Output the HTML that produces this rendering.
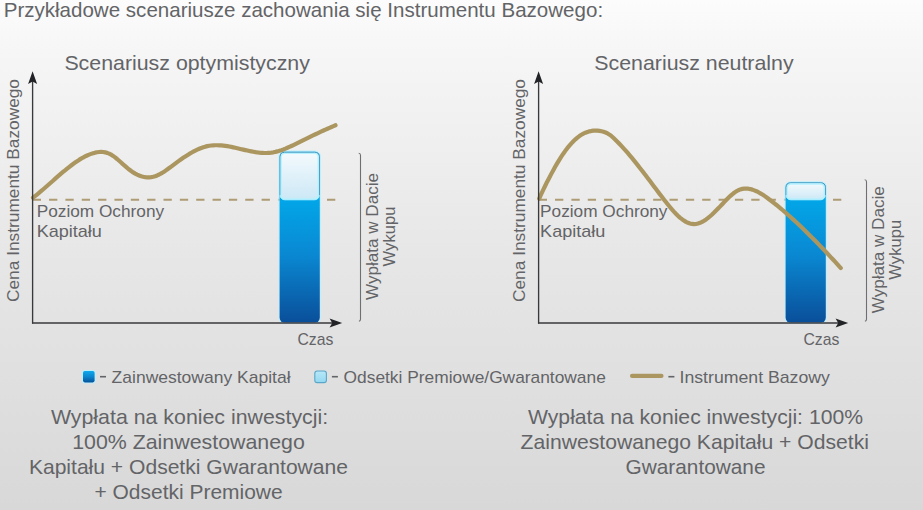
<!DOCTYPE html>
<html><head><meta charset="utf-8">
<style>
html,body{margin:0;padding:0;background:#fff;}
body{width:923px;height:510px;overflow:hidden;}
svg{display:block;font-family:"Liberation Sans",sans-serif;}
</style></head>
<body>
<svg width="923" height="510" viewBox="0 0 923 510">
<defs>
<linearGradient id="bg" x1="0" y1="0" x2="0" y2="1">
<stop offset="0" stop-color="#fcfcfc"/>
<stop offset="0.1" stop-color="#f6f6f6"/>
<stop offset="0.49" stop-color="#e8e7e7"/>
<stop offset="1" stop-color="#d8d8d8"/>
</linearGradient>
<linearGradient id="blue" x1="0" y1="0" x2="0" y2="1">
<stop offset="0" stop-color="#0ea8ec"/>
<stop offset="0.5" stop-color="#0a86cf"/>
<stop offset="1" stop-color="#06529a"/>
</linearGradient>
<linearGradient id="bluebar" gradientUnits="userSpaceOnUse" x1="0" y1="200" x2="0" y2="322">
<stop offset="0" stop-color="#02a6e8"/>
<stop offset="0.45" stop-color="#0a88d2"/>
<stop offset="1" stop-color="#0a4f9a"/>
</linearGradient>
<linearGradient id="light" x1="0" y1="0" x2="0" y2="1">
<stop offset="0" stop-color="#f4fafd"/>
<stop offset="1" stop-color="#cce8f6"/>
</linearGradient>
<linearGradient id="light2" x1="0" y1="0" x2="0" y2="1">
<stop offset="0" stop-color="#b8e8f8"/>
<stop offset="1" stop-color="#94d8f1"/>
</linearGradient>
</defs>
<rect x="0" y="0" width="923" height="510" fill="url(#bg)"/>
<g fill="#636467">
<text x="3.70" y="16.6" font-size="20.3" text-anchor="start" textLength="599.40" lengthAdjust="spacingAndGlyphs">Przykładowe scenariusze zachowania się Instrumentu Bazowego:</text>
<text x="64.40" y="69.7" font-size="20.3" text-anchor="start" textLength="245.50" lengthAdjust="spacingAndGlyphs">Scenariusz optymistyczny</text>
<text transform="translate(19,302) rotate(-90)" x="0" y="0" font-size="16.6" textLength="223" lengthAdjust="spacingAndGlyphs">Cena Instrumentu Bazowego</text>
<line x1="32.7" y1="199.7" x2="336" y2="199.7" stroke="#ad9c74" stroke-width="2" stroke-dasharray="8.3 8.05"/>
<text x="36.70" y="216.6" font-size="16.4" textLength="127.40" lengthAdjust="spacingAndGlyphs">Poziom Ochrony</text>
<text x="36.70" y="237.4" font-size="16.4" textLength="65.20" lengthAdjust="spacingAndGlyphs">Kapitału</text>
<rect x="279.0" y="151.20000000000002" width="41.400000000000006" height="172.0" rx="5.6" fill="none" stroke="#bfeefc" stroke-width="1.2"/>
<rect x="279.6" y="151.8" width="40.2" height="170.8" rx="5" fill="url(#bluebar)"/>
<rect x="280.1" y="152.3" width="39.2" height="47.5" rx="4.6" fill="url(#light)" stroke="#a9eefc" stroke-width="1"/>
<path d="M280.1 195.20000000000002 L280.1 156.9 Q280.1 152.3 284.70000000000005 152.3 L314.7 152.3 Q319.3 152.3 319.3 156.9 L319.3 195.20000000000002" fill="none" stroke="#3d8fba" stroke-width="1"/>
<rect x="281.20000000000005" y="153.4" width="37.0" height="45.4" rx="3.6" fill="none" stroke="#b6f1ff" stroke-width="1.3"/>
<path d="M33.0 197.70 L35.0 196.14 L37.0 194.54 L39.0 192.90 L41.0 191.22 L43.0 189.51 L45.0 187.78 L47.0 186.02 L49.0 184.25 L51.0 182.48 L53.0 180.70 L55.0 178.92 L57.0 177.15 L59.0 175.40 L61.0 173.67 L63.0 171.96 L65.1 170.28 L67.1 168.64 L69.1 167.04 L71.1 165.49 L73.1 164.00 L75.1 162.56 L77.1 161.19 L79.1 159.89 L81.1 158.66 L83.1 157.52 L85.1 156.46 L87.1 155.49 L89.1 154.63 L91.1 153.87 L93.1 153.21 L95.1 152.68 L97.1 152.27 L99.1 152.02 L101.1 151.93 L103.1 152.02 L105.1 152.33 L107.1 152.85 L109.1 153.62 L111.1 154.65 L113.1 155.91 L115.1 157.38 L117.1 158.99 L119.1 160.72 L121.1 162.52 L123.1 164.34 L125.2 166.15 L127.2 167.90 L129.2 169.54 L131.2 171.05 L133.2 172.41 L135.2 173.61 L137.2 174.64 L139.2 175.52 L141.2 176.23 L143.2 176.76 L145.2 177.13 L147.2 177.31 L149.2 177.31 L151.2 177.12 L153.2 176.75 L155.2 176.18 L157.2 175.42 L159.2 174.49 L161.2 173.41 L163.2 172.20 L165.2 170.89 L167.2 169.50 L169.2 168.05 L171.2 166.56 L173.2 165.06 L175.2 163.57 L177.2 162.09 L179.2 160.64 L181.2 159.21 L183.2 157.83 L185.3 156.48 L187.3 155.18 L189.3 153.93 L191.3 152.75 L193.3 151.63 L195.3 150.58 L197.3 149.61 L199.3 148.73 L201.3 147.94 L203.3 147.24 L205.3 146.65 L207.3 146.16 L209.3 145.79 L211.3 145.51 L213.3 145.33 L215.3 145.24 L217.3 145.23 L219.3 145.30 L221.3 145.43 L223.3 145.63 L225.3 145.88 L227.3 146.18 L229.3 146.53 L231.3 146.92 L233.3 147.33 L235.3 147.77 L237.3 148.23 L239.3 148.70 L241.3 149.18 L243.3 149.65 L245.4 150.12 L247.4 150.57 L249.4 151.00 L251.4 151.41 L253.4 151.78 L255.4 152.12 L257.4 152.41 L259.4 152.64 L261.4 152.82 L263.4 152.93 L265.4 152.98 L267.4 152.94 L269.4 152.82 L271.4 152.61 L273.4 152.30 L275.4 151.90 L277.4 151.40 L279.4 150.82 L281.4 150.16 L283.4 149.43 L285.4 148.64 L287.4 147.79 L289.4 146.91 L291.4 145.98 L293.4 145.02 L295.4 144.05 L297.4 143.06 L299.4 142.06 L301.4 141.06 L303.4 140.07 L305.5 139.08 L307.5 138.10 L309.5 137.13 L311.5 136.16 L313.5 135.20 L315.5 134.25 L317.5 133.30 L319.5 132.36 L321.5 131.44 L323.5 130.52 L325.5 129.62 L327.5 128.72 L329.5 127.84 L331.5 126.97 L333.5 126.12 L335.5 125.28" fill="none" stroke="#ab9660" stroke-width="4.2" stroke-linecap="round" stroke-linejoin="round"/>
<line x1="32.6" y1="80" x2="32.6" y2="323.6" stroke="#38393c" stroke-width="1.35"/>
<line x1="32" y1="323" x2="335" y2="323" stroke="#38393c" stroke-width="1.35"/>
<path d="M32.6 71.3 L37.1 83.9 L32.6 81.4 L28.1 83.9 Z" fill="#222326"/>
<path d="M342.2 323 L329.6 318.6 L332.2 323 L329.6 327.4 Z" fill="#222326"/>
<path d="M358.7 153.3 Q360.5 153.3 360.5 155.3 L360.5 319.3 Q360.5 321 358.9 321.3" fill="none" stroke="#6e6f72" stroke-width="1.1"/>
<text x="297.40" y="344.7" font-size="16.4" text-anchor="start" textLength="35.90" lengthAdjust="spacingAndGlyphs">Czas</text>
<text transform="translate(378.30,236.5) rotate(-90)" x="0" y="0" font-size="17" text-anchor="middle" textLength="127.00" lengthAdjust="spacingAndGlyphs">Wypłata w Dacie</text>
<text transform="translate(395.40,236.5) rotate(-90)" x="0" y="0" font-size="17" text-anchor="middle" textLength="59.80" lengthAdjust="spacingAndGlyphs">Wykupu</text>
<g transform="translate(506,0)">
<text x="88.30" y="69.7" font-size="20.3" text-anchor="start" textLength="199.30" lengthAdjust="spacingAndGlyphs">Scenariusz neutralny</text>
<text transform="translate(19,302) rotate(-90)" x="0" y="0" font-size="16.6" textLength="223" lengthAdjust="spacingAndGlyphs">Cena Instrumentu Bazowego</text>
<line x1="32.7" y1="199.7" x2="336" y2="199.7" stroke="#ad9c74" stroke-width="2" stroke-dasharray="8.3 8.05"/>
<text x="34.10" y="216.6" font-size="16.4" textLength="127.40" lengthAdjust="spacingAndGlyphs">Poziom Ochrony</text>
<text x="34.10" y="237.4" font-size="16.4" textLength="65.20" lengthAdjust="spacingAndGlyphs">Kapitału</text>
<rect x="279.0" y="181.8" width="41.400000000000006" height="141.4" rx="5.6" fill="none" stroke="#bfeefc" stroke-width="1.2"/>
<rect x="279.6" y="182.4" width="40.2" height="140.20000000000002" rx="5" fill="url(#bluebar)"/>
<rect x="280.1" y="182.9" width="39.2" height="16.900000000000006" rx="4.6" fill="url(#light)" stroke="#a9eefc" stroke-width="1"/>
<path d="M280.1 195.20000000000002 L280.1 187.5 Q280.1 182.9 284.70000000000005 182.9 L314.7 182.9 Q319.3 182.9 319.3 187.5 L319.3 195.20000000000002" fill="none" stroke="#3d8fba" stroke-width="1"/>
<rect x="281.20000000000005" y="184.0" width="37.0" height="14.800000000000006" rx="3.6" fill="none" stroke="#b6f1ff" stroke-width="1.3"/>
<path d="M33.2 198.61 L35.2 194.23 L37.2 189.94 L39.2 185.76 L41.2 181.68 L43.3 177.72 L45.3 173.88 L47.3 170.16 L49.3 166.58 L51.3 163.13 L53.3 159.83 L55.3 156.68 L57.3 153.69 L59.3 150.86 L61.3 148.20 L63.4 145.71 L65.4 143.40 L67.4 141.29 L69.4 139.36 L71.4 137.64 L73.4 136.11 L75.4 134.79 L77.4 133.65 L79.4 132.71 L81.5 131.94 L83.5 131.35 L85.5 130.94 L87.5 130.69 L89.5 130.60 L91.5 130.68 L93.5 130.90 L95.5 131.28 L97.5 131.80 L99.6 132.51 L101.6 133.45 L103.6 134.67 L105.6 136.20 L107.6 137.99 L109.6 139.92 L111.6 141.93 L113.6 144.01 L115.6 146.15 L117.6 148.35 L119.7 150.61 L121.7 152.93 L123.7 155.29 L125.7 157.70 L127.7 160.15 L129.7 162.64 L131.7 165.17 L133.7 167.72 L135.7 170.30 L137.8 172.91 L139.8 175.53 L141.8 178.17 L143.8 180.83 L145.8 183.49 L147.8 186.16 L149.8 188.82 L151.8 191.49 L153.8 194.14 L155.9 196.79 L157.9 199.42 L159.9 202.01 L161.9 204.55 L163.9 207.01 L165.9 209.39 L167.9 211.65 L169.9 213.78 L171.9 215.76 L173.9 217.58 L176.0 219.20 L178.0 220.63 L180.0 221.83 L182.0 222.80 L184.0 223.51 L186.0 223.96 L188.0 224.11 L190.0 223.97 L192.0 223.54 L194.1 222.85 L196.1 221.92 L198.1 220.77 L200.1 219.43 L202.1 217.91 L204.1 216.24 L206.1 214.44 L208.1 212.53 L210.1 210.53 L212.1 208.47 L214.2 206.36 L216.2 204.24 L218.2 202.12 L220.2 200.03 L222.2 198.01 L224.2 196.10 L226.2 194.33 L228.2 192.75 L230.2 191.37 L232.3 190.25 L234.3 189.42 L236.3 188.86 L238.3 188.57 L240.3 188.53 L242.3 188.70 L244.3 189.08 L246.3 189.64 L248.3 190.37 L250.4 191.24 L252.4 192.24 L254.4 193.35 L256.4 194.56 L258.4 195.86 L260.4 197.24 L262.4 198.69 L264.4 200.20 L266.4 201.76 L268.4 203.35 L270.5 204.97 L272.5 206.62 L274.5 208.29 L276.5 209.99 L278.5 211.71 L280.5 213.46 L282.5 215.23 L284.5 217.03 L286.5 218.84 L288.6 220.69 L290.6 222.55 L292.6 224.43 L294.6 226.34 L296.6 228.26 L298.6 230.21 L300.6 232.17 L302.6 234.16 L304.6 236.16 L306.7 238.18 L308.7 240.22 L310.7 242.27 L312.7 244.34 L314.7 246.43 L316.7 248.53 L318.7 250.65 L320.7 252.78 L322.7 254.92 L324.7 257.08 L326.8 259.25 L328.8 261.43 L330.8 263.63 L332.8 265.83 L334.8 268.05" fill="none" stroke="#ab9660" stroke-width="4.2" stroke-linecap="round" stroke-linejoin="round"/>
<line x1="32.6" y1="80" x2="32.6" y2="323.6" stroke="#38393c" stroke-width="1.35"/>
<line x1="32" y1="323" x2="335" y2="323" stroke="#38393c" stroke-width="1.35"/>
<path d="M32.6 71.3 L37.1 83.9 L32.6 81.4 L28.1 83.9 Z" fill="#222326"/>
<path d="M342.2 323 L329.6 318.6 L332.2 323 L329.6 327.4 Z" fill="#222326"/>
<path d="M358.7 179.8 Q360.5 179.8 360.5 181.8 L360.5 319.3 Q360.5 321 358.9 321.3" fill="none" stroke="#6e6f72" stroke-width="1.1"/>
<text x="297.40" y="344.7" font-size="16.4" text-anchor="start" textLength="35.90" lengthAdjust="spacingAndGlyphs">Czas</text>
<text transform="translate(378.30,249.75) rotate(-90)" x="0" y="0" font-size="17" text-anchor="middle" textLength="127.00" lengthAdjust="spacingAndGlyphs">Wypłata w Dacie</text>
<text transform="translate(395.40,249.75) rotate(-90)" x="0" y="0" font-size="17" text-anchor="middle" textLength="59.80" lengthAdjust="spacingAndGlyphs">Wykupu</text>
</g>
<rect x="82" y="370" width="13.6" height="13.4" rx="2.6" fill="#bdeefc"/>
<rect x="83" y="371" width="11.6" height="11.4" rx="1.8" fill="url(#blue)"/>
<rect x="100" y="375.9" width="6" height="1.6"/>
<text x="111.60" y="382.8" font-size="16.4" text-anchor="start" textLength="179.00" lengthAdjust="spacingAndGlyphs">Zainwestowany Kapitał</text>
<rect x="314.8" y="371" width="11.6" height="11.6" rx="2.4" fill="url(#light2)" stroke="#5aa6c8" stroke-width="1.1"/>
<rect x="331.9" y="375.9" width="6" height="1.6"/>
<text x="343.60" y="382.8" font-size="16.4" text-anchor="start" textLength="262.20" lengthAdjust="spacingAndGlyphs">Odsetki Premiowe/Gwarantowane</text>
<line x1="632.1" y1="375.9" x2="661.4" y2="375.9" stroke="#ab9660" stroke-width="4.3" stroke-linecap="round"/>
<rect x="668.4" y="375.9" width="6" height="1.6"/>
<text x="679.50" y="382.8" font-size="16.4" text-anchor="start" textLength="150.40" lengthAdjust="spacingAndGlyphs">Instrument Bazowy</text>
<text x="50.90" y="424.4" font-size="20.3" text-anchor="start" textLength="277.30" lengthAdjust="spacingAndGlyphs">Wypłata na koniec inwestycji:</text>
<text x="72.20" y="449.1" font-size="20.3" text-anchor="start" textLength="232.60" lengthAdjust="spacingAndGlyphs">100% Zainwestowanego</text>
<text x="28.90" y="473.8" font-size="20.3" text-anchor="start" textLength="319.10" lengthAdjust="spacingAndGlyphs">Kapitału + Odsetki Gwarantowane</text>
<text x="94.50" y="498.5" font-size="20.3" text-anchor="start" textLength="188.10" lengthAdjust="spacingAndGlyphs">+ Odsetki Premiowe</text>
<text x="528.00" y="424.4" font-size="20.3" text-anchor="start" textLength="335.00" lengthAdjust="spacingAndGlyphs">Wypłata na koniec inwestycji: 100%</text>
<text x="520.60" y="449.1" font-size="20.3" text-anchor="start" textLength="348.40" lengthAdjust="spacingAndGlyphs">Zainwestowanego Kapitału + Odsetki</text>
<text x="625.60" y="473.8" font-size="20.3" text-anchor="start" textLength="139.90" lengthAdjust="spacingAndGlyphs">Gwarantowane</text>
</g>
</svg>
</body></html>
